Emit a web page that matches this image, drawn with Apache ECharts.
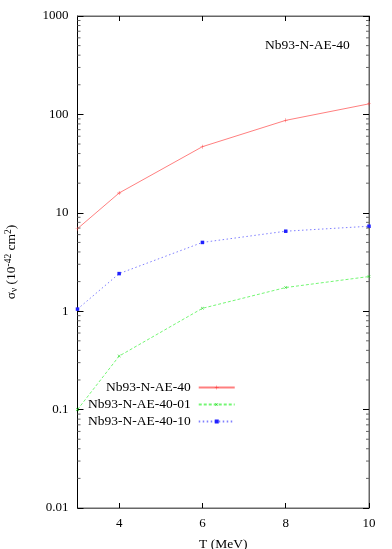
<!DOCTYPE html>
<html><head><meta charset="utf-8">
<script src="https://cdn.jsdelivr.net/npm/echarts@6/dist/echarts.min.js"></script>
<style>html,body{margin:0;padding:0;background:#fff}#c{width:392px;height:549px}</style>
</head><body><div id="c"></div>
<script>
const T = [3, 4, 6, 8, 10];
const ae40 = [6.9, 15.9, 47, 87, 128];
const ae40_01 = [0.1, 0.35, 1.07, 1.74, 2.25];
const ae40_10 = [1.05, 2.41, 5.0, 6.5, 7.3];
const seriesNames = ['Nb93-N-AE-40', 'Nb93-N-AE-40-01', 'Nb93-N-AE-40-10'];
const xTicks = [4, 6, 8, 10];
const yTickLabels = ['0.01', '0.1', '1', '10', '100', '1000'];
const decades = [0.01, 0.1, 1, 10, 100];
const mult = [2, 3, 4, 5, 6, 7, 8, 9];
const minorTicks = [];
decades.forEach(d => mult.forEach(m => minorTicks.push(+(d * m).toPrecision(3))));

const FONT = 'Liberation Serif';
const chart = echarts.init(document.getElementById('c'), null, {renderer: 'canvas'});
const pairs = arr => T.map((t, i) => [t, arr[i]]);
const plus = 'path://M0,4.5h10v1h-10z M4.5,0h1v10h-1z';

chart.setOption({
  animation: false,
  title: {text: 'Nb93-N-AE-40', left: 265, top: 38, padding: 0,
    textStyle: {fontFamily: FONT, fontSize: 13.5, fontWeight: 'normal', color: '#000'}},
  grid: {left: 77.5, right: 23, top: 16, bottom: 41, show: true, borderColor: '#666', borderWidth: 1,
    containLabel: false, outerBoundsMode: 'none'},
  legend: {
    data: seriesNames, orient: 'vertical', align: 'right', left: 88, top: 380,
    itemWidth: 36, itemHeight: 5, itemGap: 2, padding: 0,
    textStyle: {fontFamily: FONT, fontSize: 13.5, lineHeight: 15, color: '#000', padding: [0, 3, 0, 0]}
  },
  xAxis: [{
    type: 'value', min: 3, max: 10, position: 'bottom',
    name: 'T (MeV)', nameLocation: 'middle', nameGap: 29,
    nameTextStyle: {fontFamily: FONT, fontSize: 13.5, color: '#000'},
    axisLine: {lineStyle: {color: '#666', width: 1}},
    axisTick: {inside: true, length: 5, customValues: xTicks, lineStyle: {color: '#000'}},
    axisLabel: {customValues: xTicks, fontFamily: FONT, fontSize: 13, color: '#000', margin: 9},
    splitLine: {show: false}
  }, {
    type: 'value', min: 3, max: 10, position: 'top',
    axisLine: {lineStyle: {color: '#666', width: 1}},
    axisTick: {inside: true, length: 5, customValues: xTicks, lineStyle: {color: '#000'}},
    axisLabel: {show: false}, splitLine: {show: false}
  }],
  yAxis: [{
    type: 'log', logBase: 10, min: 0.01, max: 1000, position: 'left',
    name: '{n|σ}{sub|ν}{n| (10}{sup|-42}{n| cm}{sup|2}{n|)}',
    nameLocation: 'middle', nameGap: 58, nameRotate: 90,
    nameTextStyle: {fontFamily: FONT, fontSize: 13.5, color: '#000',
      rich: {
        n: {fontFamily: FONT, fontSize: 13.5, color: '#000', lineHeight: 16, verticalAlign: 'middle'},
        sub: {fontFamily: FONT, fontSize: 9.5, color: '#000', lineHeight: 16, verticalAlign: 'bottom'},
        sup: {fontFamily: FONT, fontSize: 9.5, color: '#000', lineHeight: 16, verticalAlign: 'top'}
      }},
    axisLine: {lineStyle: {color: '#000', width: 1}},
    axisTick: {inside: true, length: 6, lineStyle: {color: '#000'}},
    axisLabel: {fontFamily: FONT, fontSize: 13, color: '#000', margin: 9,
      formatter: v => { const i = Math.round(Math.log10(v)) + 2; return yTickLabels[i] !== undefined ? yTickLabels[i] : ''; }},
    splitLine: {show: false}, minorTick: {show: false}
  }, {
    type: 'log', logBase: 10, min: 0.01, max: 1000, position: 'right',
    axisLine: {lineStyle: {color: '#666', width: 1}},
    axisTick: {inside: true, length: 6, lineStyle: {color: '#000'}},
    axisLabel: {show: false}, splitLine: {show: false}
  }],
  series: [{
    name: seriesNames[0], type: 'line', data: pairs(ae40), color: '#ff0000',
    lineStyle: {width: 1, color: '#ff0000', opacity: 0.5},
    symbol: plus, symbolSize: 4, itemStyle: {color: '#ff3030'}
  }, {
    name: seriesNames[1], type: 'line', data: pairs(ae40_01), color: '#00ff00',
    lineStyle: {width: 1, color: '#00ee00', type: [3, 2], opacity: 0.55},
    symbol: plus, symbolRotate: 45, symbolSize: 4, itemStyle: {color: '#00cc00'}
  }, {
    name: seriesNames[2], type: 'line', data: pairs(ae40_10), color: '#0000ff',
    lineStyle: {width: 1, color: '#0000ff', type: [1.5, 2.5], opacity: 0.5},
    symbol: 'rect', symbolSize: 3.5, itemStyle: {color: '#2020ff'}
  }, {
    type: 'custom', silent: true, clip: false, z: 5,
    data: minorTicks.map(v => [3, v]),
    renderItem: (params, api) => {
      const v = api.value(1);
      const p = api.coord([3, v]);
      const q = api.coord([10, v]);
      const st = {stroke: '#666', lineWidth: 1};
      return {type: 'group', children: [
        {type: 'line', shape: {x1: p[0], y1: p[1], x2: p[0] + 3, y2: p[1]}, style: st},
        {type: 'line', shape: {x1: q[0], y1: q[1], x2: q[0] - 3, y2: q[1]}, style: st}
      ]};
    }
  }]
});
</script></body></html>
